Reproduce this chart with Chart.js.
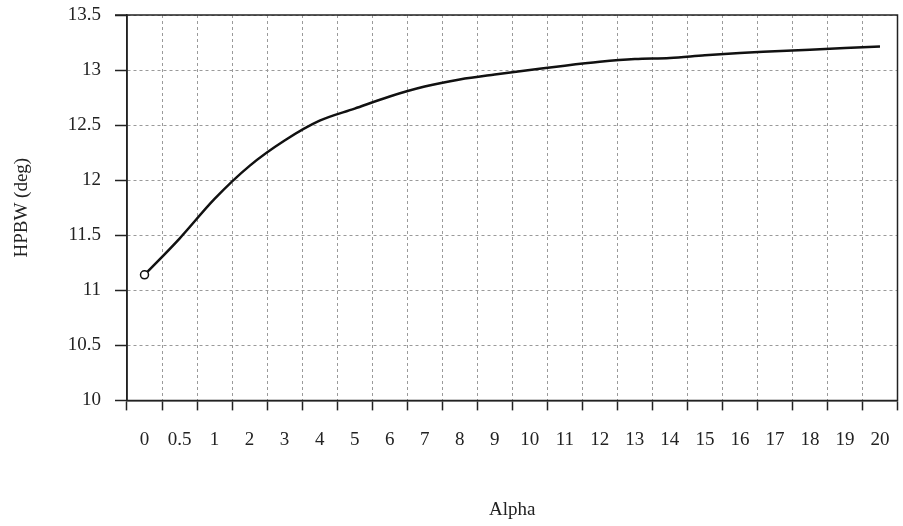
<!DOCTYPE html>
<html>
<head>
<meta charset="utf-8">
<script src="https://cdn.jsdelivr.net/npm/chart.js@4/dist/chart.umd.min.js"></script>
<style>
    html, body { margin: 0; padding: 0; background: #fff; }
    #wrap { width: 903px; height: 526px; }
</style>
</head>
<body>
<div id="wrap"><canvas id="myChart"></canvas></div>
<script>
const alphaLabels = ['0', '0.5', '1', '2', '3', '4', '5', '6', '7', '8', '9', '10',
    '11', '12', '13', '14', '15', '16', '17', '18', '19', '20'];
const hpbw = [11.14, 11.47, 11.83, 12.13, 12.36, 12.54, 12.65, 12.76, 12.85, 12.915, 12.96, 13.0,
    13.04, 13.075, 13.10, 13.11, 13.135, 13.155, 13.17, 13.185, 13.20, 13.215];
const yMin = 10;
const yMax = 13.5;
const yStep = 0.5;

// axis lines and frame drawn solid, the grid itself is dotted
const frame = {
    id: 'frame',
    afterDraw(chart) {
        const a = chart.chartArea;
        const ctx = chart.ctx;
        ctx.save();
        ctx.strokeStyle = '#222';
        ctx.lineWidth = 1.5;
        ctx.setLineDash([]);
        ctx.beginPath();
        ctx.moveTo(a.left - 12, a.top);
        ctx.lineTo(a.right, a.top);
        ctx.lineTo(a.right, a.bottom);
        ctx.lineTo(a.left, a.bottom);
        ctx.lineTo(a.left, a.top);
        ctx.stroke();
        ctx.restore();
    }
};

MakeChart();

function MakeChart() {
    const ctx = document.getElementById('myChart');
    new Chart(ctx, {
        type: 'line',
        data: {
            labels: alphaLabels,
            datasets: [{
                label: 'HPBW',
                data: hpbw,
                borderColor: '#111',
                borderWidth: 2.5,
                cubicInterpolationMode: 'monotone',
                pointRadius: c => c.dataIndex === 0 ? 4 : 0,
                pointBackgroundColor: '#fff',
                pointBorderColor: '#111',
                pointBorderWidth: 1.5
            }]
        },
        options: {
            responsive: true,
            maintainAspectRatio: false,
            animation: false,
            layout: { padding: { top: 15, right: 0, left: 0, bottom: 0 } },
            plugins: {
                legend: { display: false },
                tooltip: { enabled: false }
            },
            scales: {
                x: {
                    offset: true,
                    afterFit: scale => { scale.paddingLeft = 0; scale.paddingRight = 0; },
                    grid: {
                        offset: true,
                        color: '#9a9a9a',
                        tickColor: '#222',
                        tickBorderDash: [],
                        tickWidth: 1.5,
                        tickLength: 10
                    },
                    border: { color: '#222', width: 1.5, dash: [3, 3] },
                    ticks: {
                        color: '#222',
                        padding: 18,
                        maxRotation: 0,
                        autoSkip: false,
                        font: { family: 'Liberation Serif', size: 19 }
                    },
                    title: {
                        display: true,
                        text: 'Alpha',
                        color: '#222',
                        padding: { top: 29, bottom: 5 },
                        font: { family: 'Liberation Serif', size: 19 }
                    }
                },
                y: {
                    min: yMin,
                    max: yMax,
                    afterFit: scale => {
                        scale.width = 127;
                        scale.paddingTop = 0;
                        scale.paddingBottom = 0;
                    },
                    grid: {
                        color: '#9a9a9a',
                        tickColor: '#222',
                        tickBorderDash: [],
                        tickWidth: 1.5,
                        tickLength: 12
                    },
                    border: { color: '#222', width: 1.5, dash: [3, 3] },
                    ticks: {
                        stepSize: yStep,
                        color: '#222',
                        padding: 14,
                        callback: value => String(value),
                        font: { family: 'Liberation Serif', size: 19 }
                    },
                    title: {
                        display: true,
                        text: 'HPBW (deg)',
                        color: '#222',
                        padding: { top: 11, bottom: 0 },
                        font: { family: 'Liberation Serif', size: 19 }
                    }
                }
            }
        },
        plugins: [frame]
    });
}
</script>
</body>
</html>
